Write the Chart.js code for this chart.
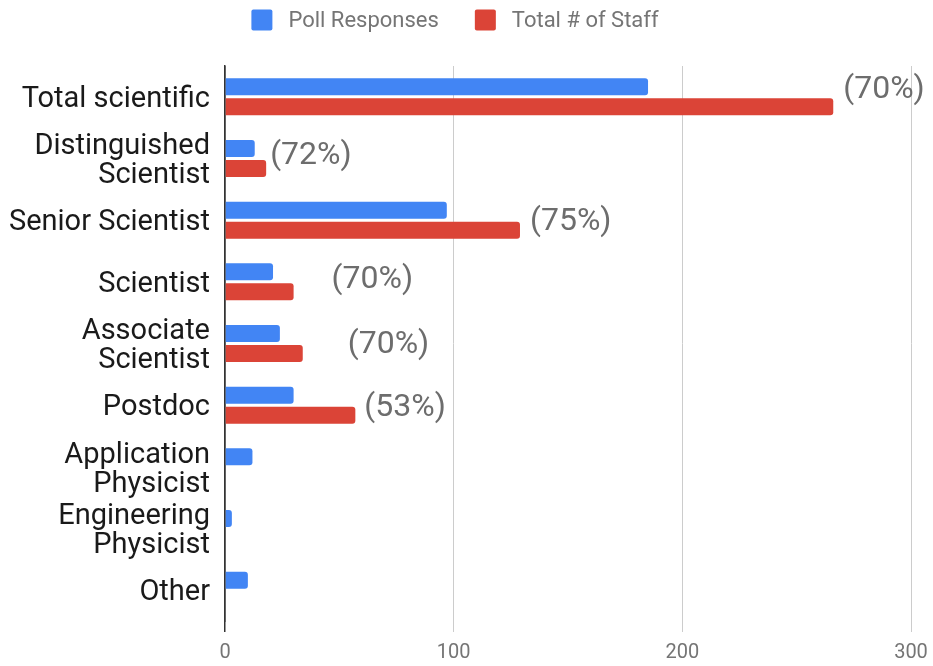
<!DOCTYPE html>
<html>
<head>
<meta charset="utf-8">
<script src="https://cdn.jsdelivr.net/npm/chart.js@4/dist/chart.umd.min.js"></script>
<style>
  html, body { margin: 0; padding: 0; background: #ffffff; }
  canvas { display: block; }
</style>
</head>
<body>
<canvas id="staffChart" width="933" height="666"></canvas>
<script>
// Staff categories (multi-line labels are arrays of lines)
const categories = [
  ['Total scientific'],
  ['Distinguished', 'Scientist'],
  ['Senior Scientist'],
  ['Scientist'],
  ['Associate', 'Scientist'],
  ['Postdoc'],
  ['Application', 'Physicist'],
  ['Engineering', 'Physicist'],
  ['Other']
];

// Number of poll responses per category
const pollResponses = [185, 13, 97, 21, 24, 30, 12, 3, 10];

// Total number of staff per category (no figure for the last three)
const totalStaff = [266, 18, 129, 30, 34, 57, null, null, null];

// Response-rate annotations shown next to the staff bars
const responseRates = ['(70%)', '(72%)', '(75%)', '(70%)', '(70%)', '(53%)', null, null, null];

// Value-axis tick labels
const xTicks = [0, 100, 200, 300];

const FONT = 'Roboto, "Noto Sans", "Liberation Sans", Arial, sans-serif';
const BLUE = '#4285F4';
const RED = '#DB4437';

// Pixel nudges [dx, dy] for each annotation, relative to the end of the staff bar
const rateNudge = [[10, -7], [4, -3], [10, 2], [38, -2], [45, 1], [9, 3]];

// Legend drawn centred above the plot
const topLegend = {
  id: 'topLegend',
  afterDraw(chart) {
    const ctx = chart.ctx;
    const box = 21, gap = 16, spacing = 36, cx = 455, cy = 20;
    ctx.save();
    ctx.font = '22px ' + FONT;
    const items = chart.data.datasets.map(d => ({
      text: d.label,
      color: d.backgroundColor,
      w: ctx.measureText(d.label).width
    }));
    const total = items.reduce((s, it) => s + box + gap + it.w, 0) + spacing * (items.length - 1);
    let x = cx - total / 2;
    ctx.textAlign = 'left';
    ctx.textBaseline = 'middle';
    items.forEach(it => {
      ctx.fillStyle = it.color;
      ctx.beginPath();
      ctx.roundRect(x, cy - box / 2, box, box, 2);
      ctx.fill();
      ctx.fillStyle = '#757575';
      ctx.fillText(it.text, x + box + gap, cy + 1);
      x += box + gap + it.w + spacing;
    });
    ctx.restore();
  }
};

// Response-rate text next to each category's staff bar
const rateLabels = {
  id: 'rateLabels',
  afterDatasetsDraw(chart) {
    const ctx = chart.ctx;
    const pollMeta = chart.getDatasetMeta(0);
    const staffMeta = chart.getDatasetMeta(1);
    ctx.save();
    ctx.font = '32px ' + FONT;
    ctx.fillStyle = '#6d6d6d';
    ctx.textAlign = 'left';
    ctx.textBaseline = 'middle';
    responseRates.forEach((txt, i) => {
      if (!txt) return;
      const bar = staffMeta.data[i];
      const mid = (pollMeta.data[i].y + bar.y) / 2;
      const [dx, dy] = rateNudge[i];
      ctx.fillText(txt, bar.x + dx, mid + dy);
    });
    ctx.restore();
  }
};

new Chart(document.getElementById('staffChart'), {
  type: 'bar',
  data: {
    labels: categories,
    datasets: [
      {
        label: 'Poll Responses',
        data: pollResponses,
        backgroundColor: BLUE,
        borderRadius: 3,
        categoryPercentage: 0.65,
        barPercentage: 0.85
      },
      {
        label: 'Total # of Staff',
        data: totalStaff,
        backgroundColor: RED,
        borderRadius: 3,
        categoryPercentage: 0.65,
        barPercentage: 0.85
      }
    ]
  },
  options: {
    indexAxis: 'y',
    responsive: false,
    animation: false,
    layout: { padding: { top: 66, right: 22, left: 0, bottom: 0 } },
    plugins: {
      legend: { display: false },
      tooltip: { enabled: false }
    },
    scales: {
      x: {
        min: 0,
        max: 300,
        afterBuildTicks: scale => { scale.ticks = xTicks.map(v => ({ value: v })); },
        afterFit: scale => {
          scale.height = 45;
          scale.paddingLeft = 0;
          scale.paddingRight = 0;
        },
        grid: {
          color: c => (c.tick && c.tick.value === 0 ? '#333333' : '#cccccc'),
          lineWidth: c => (c.tick && c.tick.value === 0 ? 1.5 : 1),
          drawTicks: true,
          tickLength: 11
        },
        border: { display: false },
        ticks: {
          padding: 9,
          color: '#757575',
          font: { family: FONT, size: 20 }
        }
      },
      y: {
        afterFit: scale => { scale.width = 225; },
        grid: { display: false, drawTicks: false },
        border: { display: true, color: '#333333', width: 1.5 },
        ticks: {
          padding: 15,
          labelOffset: 3,
          color: '#1a1a1a',
          font: { family: FONT, size: 29, lineHeight: 1.0 }
        }
      }
    }
  },
  plugins: [topLegend, rateLabels]
});
</script>
</body>
</html>
